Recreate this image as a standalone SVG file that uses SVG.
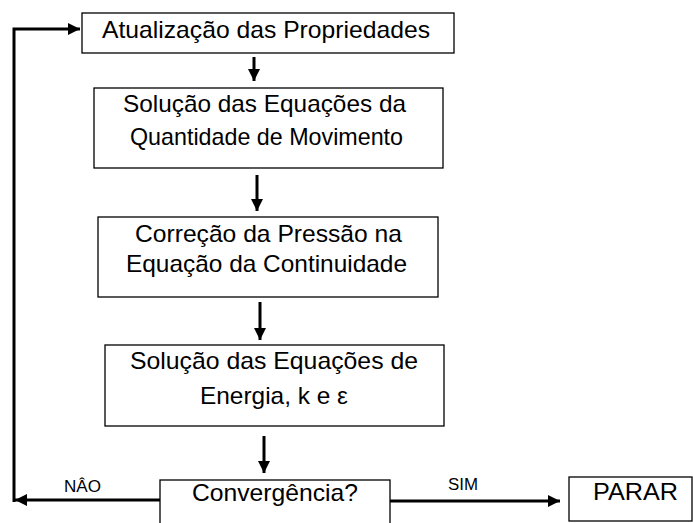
<svg xmlns="http://www.w3.org/2000/svg" width="693" height="523" viewBox="0 0 693 523">
<style>
.box{fill:#fff;stroke:#000;stroke-width:1.3}
.t{font-family:"Liberation Sans",Arial,sans-serif;fill:#000}
.big{font-size:24px}
.lbl{font-size:16px}
.ln{fill:none;stroke:#000;stroke-width:3}
</style>
<defs>
<marker id="ah" markerUnits="userSpaceOnUse" markerWidth="12" markerHeight="12" viewBox="0 0 10 10" refX="10" refY="5" orient="auto">
<path d="M0,0 L10,5 L0,10 z" fill="#000"/>
</marker>
</defs>
<rect width="693" height="523" fill="#fff"/>
<g id="connectors">
<line class="ln" x1="254" y1="57" x2="254" y2="81" marker-end="url(#ah)"/>
<line class="ln" x1="257" y1="175" x2="257" y2="211" marker-end="url(#ah)"/>
<line class="ln" x1="260" y1="302" x2="260" y2="340" marker-end="url(#ah)"/>
<line class="ln" x1="264" y1="436" x2="264" y2="473" marker-end="url(#ah)"/>
<line class="ln" x1="160" y1="500" x2="15" y2="500" marker-end="url(#ah)"/>
<polyline class="ln" points="14,502 14,29 80,29" marker-end="url(#ah)"/>
<line class="ln" x1="390" y1="501" x2="560" y2="501" marker-end="url(#ah)"/>
<text class="t lbl" x="64" y="491.5" textLength="37" lengthAdjust="spacingAndGlyphs">NÂO</text>
<text class="t lbl" x="448" y="490" textLength="30" lengthAdjust="spacingAndGlyphs">SIM</text>
</g>
<g id="n1">
<rect class="box" x="82" y="13" width="372" height="40"/>
<text class="t big" x="102" y="38" textLength="328" lengthAdjust="spacingAndGlyphs">Atualização das Propriedades</text>
</g>
<g id="n2">
<rect class="box" x="94" y="88" width="349" height="80"/>
<text class="t big" x="123" y="112" textLength="283" lengthAdjust="spacingAndGlyphs">Solução das Equações da</text>
<text class="t big" x="130" y="145" textLength="273" lengthAdjust="spacingAndGlyphs">Quantidade de Movimento</text>
</g>
<g id="n3">
<rect class="box" x="98" y="217" width="340" height="80"/>
<text class="t big" x="135" y="242" textLength="267" lengthAdjust="spacingAndGlyphs">Correção da Pressão na</text>
<text class="t big" x="126" y="272" textLength="281" lengthAdjust="spacingAndGlyphs">Equação da Continuidade</text>
</g>
<g id="n4">
<rect class="box" x="105" y="345" width="339" height="81"/>
<text class="t big" x="130" y="369" textLength="288" lengthAdjust="spacingAndGlyphs">Solução das Equações de</text>
<text class="t big" x="200" y="404" textLength="148" lengthAdjust="spacingAndGlyphs">Energia, k e ε</text>
</g>
<g id="n5">
<rect class="box" x="160" y="480" width="230" height="60"/>
<text class="t" font-size="24" x="192" y="501" textLength="166" lengthAdjust="spacingAndGlyphs">Convergência?</text>
</g>
<g id="n6">
<rect class="box" x="569" y="477" width="123" height="44"/>
<text class="t" font-size="24" x="593" y="500" textLength="85" lengthAdjust="spacingAndGlyphs">PARAR</text>
</g>
</svg>
